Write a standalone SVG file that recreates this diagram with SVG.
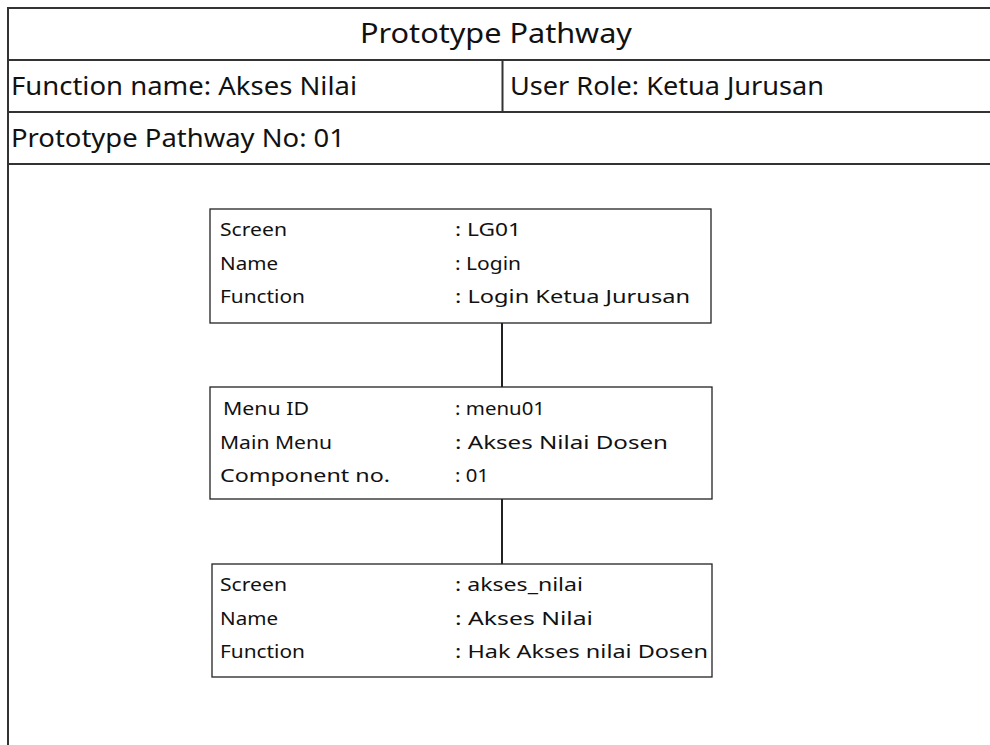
<svg xmlns="http://www.w3.org/2000/svg" width="990" height="745" viewBox="0 0 990 745">
  <style>
    .frame { fill: none; stroke: #333; stroke-width: 2; }
    .box { fill: #fff; stroke: #222; stroke-width: 1.3; }
    .link { stroke: #222; stroke-width: 2; fill: none; }
    .head { font-family: "Noto Sans", "Liberation Sans", sans-serif; fill: #111; }
    .title { font-size: 27px; }
    .label { font-size: 25px; }
    .cell { font-family: "Noto Sans", "Liberation Sans", sans-serif; font-size: 18px; fill: #111; }
  </style>
  <rect width="990" height="745" fill="#fff"/>

  <!-- header table -->
  <g id="header">
    <path class="frame" d="M8,752 V8 H1000 M8,60 H1000 M8,112 H1000 M8,164 H1000 M502.5,60 V112"/>
    <text class="head title" x="360" y="43" textLength="272" lengthAdjust="spacingAndGlyphs">Prototype Pathway</text>
    <text class="head label" x="11" y="95" textLength="346" lengthAdjust="spacingAndGlyphs">Function name: Akses Nilai</text>
    <text class="head label" x="510" y="95" textLength="314" lengthAdjust="spacingAndGlyphs">User Role: Ketua Jurusan</text>
    <text class="head label" x="11" y="147" textLength="334" lengthAdjust="spacingAndGlyphs">Prototype Pathway No: 01</text>
  </g>

  <!-- connectors -->
  <g id="connectors">
    <line class="link" x1="502" y1="323" x2="502" y2="387"/>
    <line class="link" x1="502" y1="499" x2="502" y2="564"/>
  </g>

  <g id="screen-lg01">
    <rect class="box" x="210" y="209" width="501" height="114"/>
    <text class="cell" x="220" y="236" textLength="67" lengthAdjust="spacingAndGlyphs">Screen</text>
    <text class="cell" x="455" y="236" textLength="66" lengthAdjust="spacingAndGlyphs">: LG01</text>
    <text class="cell" x="220" y="270" textLength="58" lengthAdjust="spacingAndGlyphs">Name</text>
    <text class="cell" x="455" y="270" textLength="66" lengthAdjust="spacingAndGlyphs">: Login</text>
    <text class="cell" x="220" y="303" textLength="85" lengthAdjust="spacingAndGlyphs">Function</text>
    <text class="cell" x="455" y="303" textLength="235" lengthAdjust="spacingAndGlyphs">: Login Ketua Jurusan</text>
  </g>

  <g id="menu01">
    <rect class="box" x="210" y="387" width="502" height="112"/>
    <text class="cell" x="223" y="415" textLength="86" lengthAdjust="spacingAndGlyphs">Menu ID</text>
    <text class="cell" x="455" y="415" textLength="90" lengthAdjust="spacingAndGlyphs">: menu01</text>
    <text class="cell" x="220" y="449" textLength="112" lengthAdjust="spacingAndGlyphs">Main Menu</text>
    <text class="cell" x="455" y="449" textLength="213" lengthAdjust="spacingAndGlyphs">: Akses Nilai Dosen</text>
    <text class="cell" x="220" y="482" textLength="170" lengthAdjust="spacingAndGlyphs">Component no.</text>
    <text class="cell" x="455" y="482" textLength="34" lengthAdjust="spacingAndGlyphs">: 01</text>
  </g>

  <g id="screen-akses-nilai">
    <rect class="box" x="212" y="564" width="500" height="113"/>
    <text class="cell" x="220" y="591" textLength="67" lengthAdjust="spacingAndGlyphs">Screen</text>
    <text class="cell" x="455" y="591" textLength="128" lengthAdjust="spacingAndGlyphs">: akses_nilai</text>
    <text class="cell" x="220" y="625" textLength="58" lengthAdjust="spacingAndGlyphs">Name</text>
    <text class="cell" x="455" y="625" textLength="138" lengthAdjust="spacingAndGlyphs">: Akses Nilai</text>
    <text class="cell" x="220" y="658" textLength="85" lengthAdjust="spacingAndGlyphs">Function</text>
    <text class="cell" x="455" y="658" textLength="253" lengthAdjust="spacingAndGlyphs">: Hak Akses nilai Dosen</text>
  </g>
</svg>
